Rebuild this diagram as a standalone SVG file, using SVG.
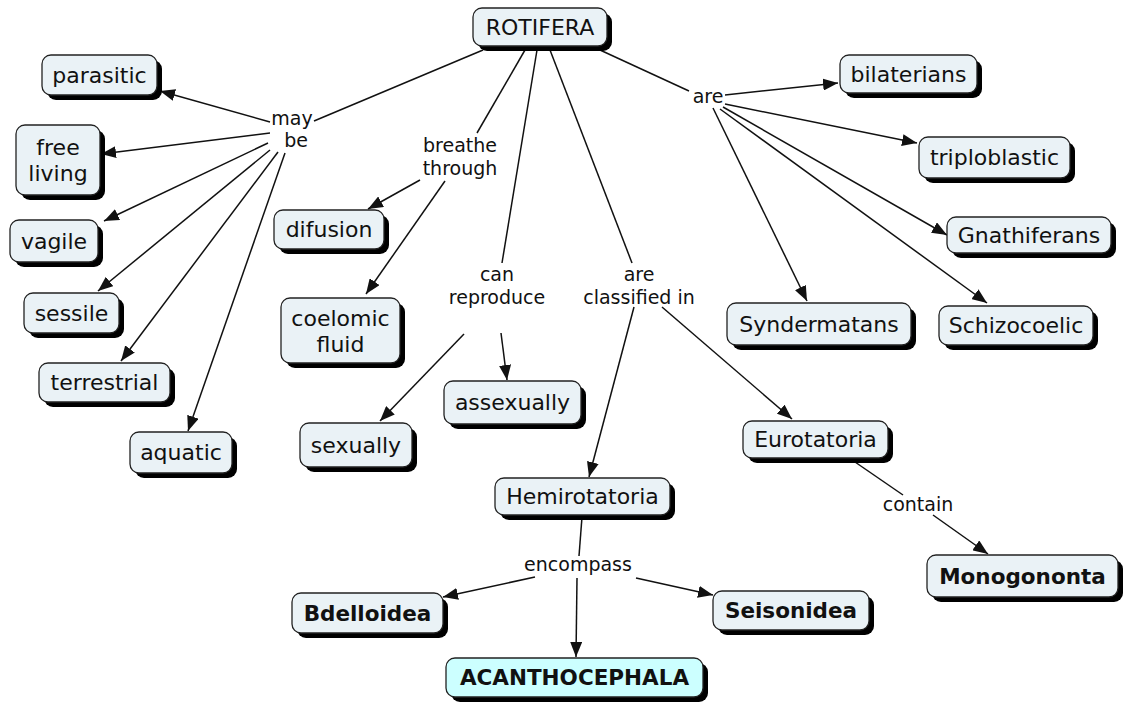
<svg xmlns="http://www.w3.org/2000/svg" width="1130" height="702" viewBox="0 0 1130 702">
<style>
.sh{fill:#000}
.bx{fill:#eaf2f6;stroke:#222;stroke-width:1.3}
.cy{fill:#ccffff}
.t{font-family:"DejaVu Sans",Verdana,sans-serif;font-size:22px;fill:#111;text-anchor:middle}
.b{font-weight:bold;font-size:21.5px}
.lp{font-family:"DejaVu Sans",Verdana,sans-serif;font-size:19px;fill:#111;text-anchor:middle}
.c line{stroke:#111;stroke-width:1.5}
.a{marker-end:url(#ah)}
</style>
<defs>
<marker id="ah" viewBox="0 0 15 12" refX="15" refY="6" markerWidth="15" markerHeight="12" orient="auto" markerUnits="userSpaceOnUse">
<path d="M0,0 L15,6 L0,12 z" fill="#111"/>
</marker>
</defs>
<rect width="1130" height="702" fill="#fff"/>
<g class="c" id="connectors">
<line x1="483" y1="50" x2="314" y2="121"/>
<line class="a" x1="270" y1="122" x2="160" y2="91"/>
<line class="a" x1="270" y1="133" x2="101" y2="154"/>
<line class="a" x1="268" y1="143" x2="104" y2="221"/>
<line class="a" x1="270" y1="150" x2="98" y2="291"/>
<line class="a" x1="278" y1="152" x2="121" y2="361"/>
<line class="a" x1="285" y1="153" x2="188" y2="431"/>
<line x1="525" y1="50" x2="477" y2="133"/>
<line class="a" x1="420" y1="180" x2="368" y2="209"/>
<line class="a" x1="445" y1="181" x2="366" y2="294"/>
<line x1="537" y1="50" x2="502" y2="263"/>
<line class="a" x1="464" y1="334" x2="380" y2="421"/>
<line class="a" x1="501" y1="333" x2="507" y2="380"/>
<line x1="550" y1="50" x2="632" y2="263"/>
<line class="a" x1="634" y1="307" x2="589" y2="477"/>
<line class="a" x1="662" y1="307" x2="792" y2="419"/>
<line x1="582" y1="517" x2="579" y2="556"/>
<line class="a" x1="535" y1="577" x2="443" y2="597"/>
<line class="a" x1="577" y1="578" x2="576" y2="657"/>
<line class="a" x1="636" y1="578" x2="713" y2="595"/>
<line x1="855" y1="462" x2="903" y2="495"/>
<line class="a" x1="933" y1="515" x2="988" y2="554"/>
<line x1="600" y1="50" x2="689" y2="91"/>
<line class="a" x1="725" y1="95" x2="838" y2="83"/>
<line class="a" x1="725" y1="104" x2="917" y2="143"/>
<line class="a" x1="723" y1="107" x2="947" y2="235"/>
<line class="a" x1="720" y1="109" x2="987" y2="303"/>
<line class="a" x1="713" y1="108" x2="807" y2="301"/>
</g>
<g id="lp-maybe"><text class="lp" x="292" y="125">may</text><text class="lp" x="296" y="147">be</text></g>
<g id="lp-breathe"><text class="lp" x="460" y="152">breathe</text><text class="lp" x="460" y="175">through</text></g>
<g id="lp-can"><text class="lp" x="497" y="281">can</text><text class="lp" x="497" y="304">reproduce</text></g>
<g id="lp-classified"><text class="lp" x="639" y="281">are</text><text class="lp" x="639" y="304">classified in</text></g>
<g id="lp-are"><text class="lp" x="708" y="103">are</text></g>
<g id="lp-encompass"><text class="lp" x="578" y="571">encompass</text></g>
<g id="lp-contain"><text class="lp" x="918" y="511">contain</text></g>

<g id="n-rotifera"><rect class="sh" x="478" y="13" width="134" height="38" rx="9"/><rect class="bx" x="473" y="8" width="134" height="38" rx="9"/><text class="t" x="540" y="35">ROTIFERA</text></g>
<g id="n-parasitic"><rect class="sh" x="47" y="60" width="115" height="40" rx="9"/><rect class="bx" x="42" y="55" width="115" height="40" rx="9"/><text class="t" x="99.5" y="83">parasitic</text></g>
<g id="n-free"><rect class="sh" x="21" y="130" width="84" height="70" rx="9"/><rect class="bx" x="16" y="125" width="84" height="70" rx="9"/><text class="t" x="58" y="155">free</text><text class="t" x="58" y="181">living</text></g>
<g id="n-vagile"><rect class="sh" x="15" y="225" width="88" height="42" rx="9"/><rect class="bx" x="10" y="220" width="88" height="42" rx="9"/><text class="t" x="54" y="249">vagile</text></g>
<g id="n-sessile"><rect class="sh" x="29" y="298" width="95" height="40" rx="9"/><rect class="bx" x="24" y="293" width="95" height="40" rx="9"/><text class="t" x="71.5" y="321">sessile</text></g>
<g id="n-terrestrial"><rect class="sh" x="44" y="368" width="131" height="39" rx="9"/><rect class="bx" x="39" y="363" width="131" height="39" rx="9"/><text class="t" x="104.5" y="390">terrestrial</text></g>
<g id="n-aquatic"><rect class="sh" x="135" y="437" width="102" height="41" rx="9"/><rect class="bx" x="130" y="432" width="102" height="41" rx="9"/><text class="t" x="181" y="460">aquatic</text></g>
<g id="n-difusion"><rect class="sh" x="279" y="215" width="110" height="39" rx="9"/><rect class="bx" x="274" y="210" width="110" height="39" rx="9"/><text class="t" x="329" y="237">difusion</text></g>
<g id="n-coelomic"><rect class="sh" x="286" y="303" width="119" height="65" rx="9"/><rect class="bx" x="281" y="298" width="119" height="65" rx="9"/><text class="t" x="340.5" y="326">coelomic</text><text class="t" x="340.5" y="352">fluid</text></g>
<g id="n-sexually"><rect class="sh" x="305" y="428" width="112" height="44" rx="9"/><rect class="bx" x="300" y="423" width="112" height="44" rx="9"/><text class="t" x="356" y="453">sexually</text></g>
<g id="n-assexually"><rect class="sh" x="449" y="386" width="137" height="43" rx="9"/><rect class="bx" x="444" y="381" width="137" height="43" rx="9"/><text class="t" x="512.5" y="410">assexually</text></g>
<g id="n-hemirotatoria"><rect class="sh" x="500" y="483" width="175" height="37" rx="9"/><rect class="bx" x="495" y="478" width="175" height="37" rx="9"/><text class="t" x="582.5" y="504">Hemirotatoria</text></g>
<g id="n-eurotatoria"><rect class="sh" x="748" y="426" width="145" height="37" rx="9"/><rect class="bx" x="743" y="421" width="145" height="37" rx="9"/><text class="t" x="815.5" y="447">Eurotatoria</text></g>
<g id="n-monogononta"><rect class="sh" x="932" y="560" width="191" height="42" rx="9"/><rect class="bx" x="927" y="555" width="191" height="42" rx="9"/><text class="t b" x="1022.5" y="584">Monogononta</text></g>
<g id="n-bdelloidea"><rect class="sh" x="297" y="598" width="151" height="40" rx="9"/><rect class="bx" x="292" y="593" width="151" height="40" rx="9"/><text class="t b" x="367.5" y="621">Bdelloidea</text></g>
<g id="n-seisonidea"><rect class="sh" x="718" y="596" width="156" height="39" rx="9"/><rect class="bx" x="713" y="591" width="156" height="39" rx="9"/><text class="t b" x="791" y="618">Seisonidea</text></g>
<g id="n-acanthocephala"><rect class="sh" x="451" y="663" width="257" height="39" rx="9"/><rect class="bx cy" x="446" y="658" width="257" height="39" rx="9"/><text class="t b" x="574.5" y="685">ACANTHOCEPHALA</text></g>
<g id="n-bilaterians"><rect class="sh" x="845" y="60" width="137" height="38" rx="9"/><rect class="bx" x="840" y="55" width="137" height="38" rx="9"/><text class="t" x="908.5" y="82">bilaterians</text></g>
<g id="n-triploblastic"><rect class="sh" x="924" y="142" width="151" height="41" rx="9"/><rect class="bx" x="919" y="137" width="151" height="41" rx="9"/><text class="t" x="994.5" y="165">triploblastic</text></g>
<g id="n-gnathiferans"><rect class="sh" x="952" y="222" width="164" height="36" rx="9"/><rect class="bx" x="947" y="217" width="164" height="36" rx="9"/><text class="t" x="1029" y="243">Gnathiferans</text></g>
<g id="n-syndermatans"><rect class="sh" x="732" y="308" width="184" height="42" rx="9"/><rect class="bx" x="727" y="303" width="184" height="42" rx="9"/><text class="t" x="819" y="332">Syndermatans</text></g>
<g id="n-schizocoelic"><rect class="sh" x="944" y="311" width="154" height="39" rx="9"/><rect class="bx" x="939" y="306" width="154" height="39" rx="9"/><text class="t" x="1016" y="333">Schizocoelic</text></g>
</svg>
